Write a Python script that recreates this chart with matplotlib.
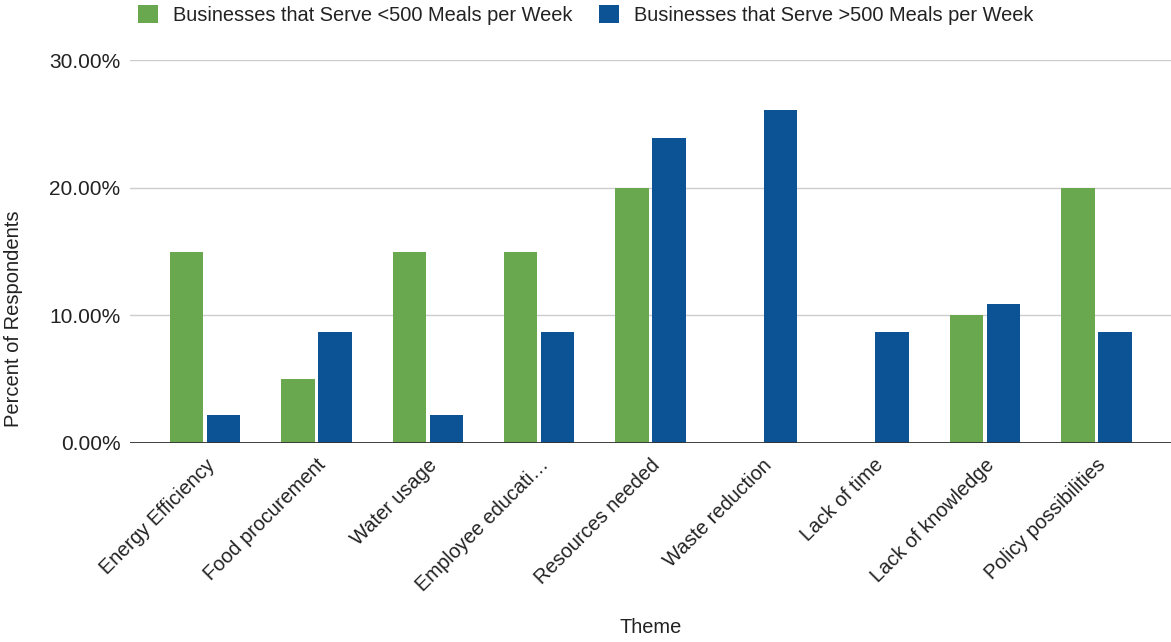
import numpy as np
import matplotlib.pyplot as plt
from matplotlib.ticker import PercentFormatter

plt.rcParams['font.family'] = ['Liberation Sans', 'DejaVu Sans']

themes = ['Energy Efficiency', 'Food procurement', 'Water usage', 'Employee educati…',
          'Resources needed', 'Waste reduction', 'Lack of time', 'Lack of knowledge',
          'Policy possibilities']
small = [0.15, 0.05, 0.15, 0.15, 0.20, 0.0, 0.0, 0.10, 0.20]          # <500 meals
large = [1/46, 4/46, 1/46, 4/46, 11/46, 12/46, 4/46, 5/46, 4/46]      # >500 meals

green = '#6aa84f'
blue = '#0b5394'

fig = plt.figure(figsize=(11.71, 6.42), dpi=100)
ax = fig.add_axes([0.111, 0.31, 0.889, 0.5965])

x = np.arange(len(themes))
w = 0.30
ax.bar(x - 0.166, small, w, color=green, label='Businesses that Serve <500 Meals per Week', zorder=3)
ax.bar(x + 0.166, large, w, color=blue, label='Businesses that Serve >500 Meals per Week', zorder=3)

ax.set_xlim(-0.673, 8.67)
ax.set_ylim(0, 0.30)
ax.set_yticks([0, 0.10, 0.20, 0.30])
ax.yaxis.set_major_formatter(PercentFormatter(1.0, decimals=2))
ax.grid(axis='y', color='#cccccc', linewidth=1, zorder=0)
ax.axhline(0, color='#333333', linewidth=1.3, zorder=4)

for s in ax.spines.values():
    s.set_visible(False)
ax.tick_params(axis='y', length=0, labelsize=15, colors='#222222', pad=7)
ax.set_xticks(x)
ax.set_xticklabels(themes, rotation=45, ha='right', va='top', rotation_mode='anchor')
ax.tick_params(axis='x', length=0, labelsize=14.4, colors='#222222', pad=9)

ax.set_ylabel('Percent of Respondents', fontsize=14.5, color='#222222')
ax.yaxis.set_label_coords(-0.103, 0.324)
ax.set_xlabel('Theme', fontsize=14.4, color='#222222', labelpad=16)

fig.legend(loc='upper center', bbox_to_anchor=(0.5, 1.02), ncol=2, frameon=False,
           fontsize=14.4, handlelength=1.0, handleheight=1.0, columnspacing=1.35,
           handletextpad=0.75, labelcolor='#222222')

fig.savefig('out.png', dpi=100)
